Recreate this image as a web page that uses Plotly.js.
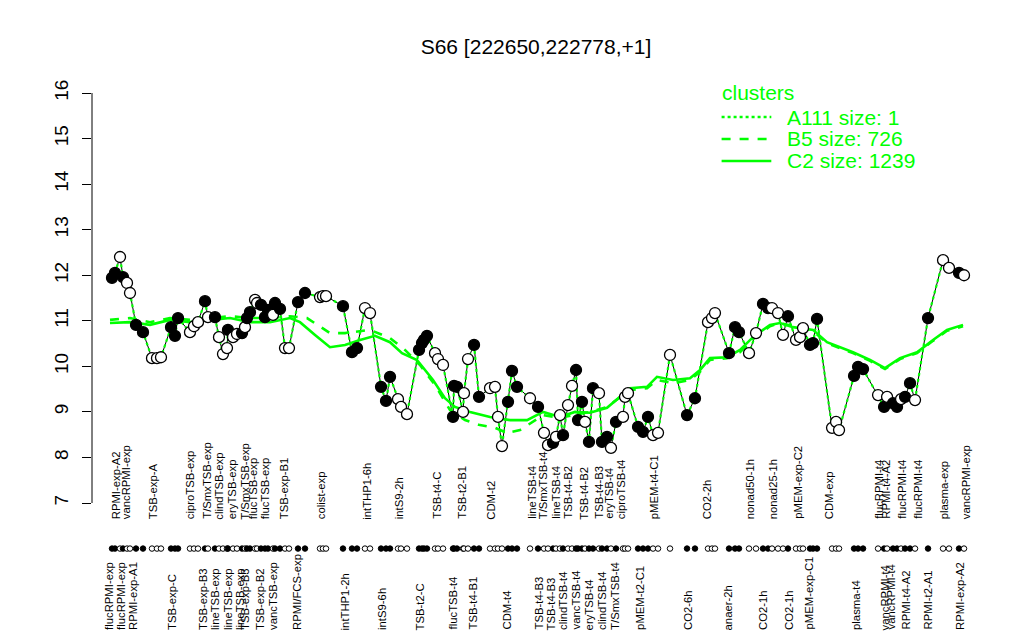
<!DOCTYPE html>
<html>
<head>
<meta charset="utf-8">
<script src="https://cdn.plot.ly/plotly-3.0.1.min.js"></script>
<style>html,body{margin:0;padding:0;background:#fff}#chart{width:1024px;height:640px}</style>
</head>
<body>
<div id="chart"></div>
<script>
// sample positions (index along the sample axis) and expression values
const sampleX = [1.35,1.87,2.75,3.27,3.97,4.49,5.54,6.76,8.33,9.20,9.90,11.65,12.34,12.87,14.96,15.66,16.36,17.58,18.10,19.32,20.02,20.72,21.42,21.59,22.47,23.16,24.04,24.56,24.91,25.43,26.31,26.66,27.35,28.05,28.57,29.45,29.80,30.67,31.54,32.24,33.81,35.03,37.65,38.17,38.70,41.66,43.23,44.11,45.50,46.38,48.30,49.17,49.87,51.26,51.79,52.83,54.93,55.45,55.80,56.32,57.72,58.24,59.12,60.86,61.04,61.56,62.61,62.78,63.48,64.53,65.40,67.32,68.19,68.71,69.41,70.46,71.16,72.03,74.30,75.70,76.74,77.44,78.31,78.84,79.53,80.06,80.93,81.63,82.33,82.68,83.37,83.90,84.59,85.29,86.34,86.86,87.74,88.43,89.31,90.53,90.88,91.40,93.15,94.02,94.89,95.77,96.64,98.73,101.70,103.09,105.36,106.06,106.58,109.03,110.08,110.77,112.52,113.74,114.96,115.84,116.53,117.58,118.45,119.32,120.72,121.42,121.94,123.16,123.69,124.39,127.01,127.71,128.23,130.85,131.55,132.42,135.04,136.09,136.61,137.65,138.35,139.05,139.75,140.62,141.49,143.76,146.38,147.42,149.17,150.04];
const sampleY = [11.94,12.05,12.40,11.96,11.83,11.61,10.91,10.75,10.18,10.18,10.20,10.86,10.67,11.06,10.75,10.88,10.97,11.43,11.08,11.08,10.64,10.27,10.40,10.80,10.64,10.71,10.73,10.86,11.06,11.19,11.46,11.39,11.35,11.08,11.24,11.13,11.39,11.26,10.40,10.40,11.41,11.61,11.52,11.54,11.54,11.32,10.31,10.40,11.28,11.17,9.55,9.24,9.77,9.28,9.11,8.95,10.36,10.51,10.58,10.67,10.29,10.16,10.03,8.89,9.57,9.55,9.00,9.41,10.16,10.47,9.33,9.52,9.55,8.89,8.25,9.22,9.90,9.55,9.30,9.11,8.54,8.27,8.32,8.45,8.93,8.49,9.15,9.57,9.92,8.82,9.22,8.78,8.34,9.52,9.41,8.34,8.45,8.21,8.78,8.89,9.33,9.41,8.67,8.56,8.89,8.49,8.54,10.25,8.93,9.30,10.97,11.06,11.17,10.29,10.86,10.75,10.29,10.73,11.37,11.28,11.28,11.17,10.69,11.10,10.58,10.64,10.84,10.47,10.51,11.04,8.65,8.78,8.60,9.79,9.99,9.94,9.37,9.11,9.33,9.19,9.11,9.28,9.33,9.63,9.26,11.06,12.33,12.16,12.05,12.00];
// 1 = filled marker, 0 = open marker
const sampleFilled = [1,1,0,1,0,0,1,1,0,0,0,1,1,1,0,0,0,1,0,1,0,0,0,1,0,0,1,0,1,1,0,0,1,1,1,0,1,1,0,0,1,1,0,0,0,1,1,1,0,0,1,1,1,0,0,0,1,1,1,1,0,0,0,1,1,1,0,0,0,1,1,0,0,0,0,1,1,1,0,1,0,0,1,0,0,1,0,0,1,1,1,0,1,1,0,1,1,0,1,0,0,0,1,1,1,0,0,0,1,1,0,0,0,1,1,1,0,0,1,1,0,0,0,1,0,0,0,1,1,1,0,0,0,1,1,1,0,1,0,1,1,0,1,1,0,1,0,0,1,0];

// cluster mean profiles
const clusterC2X = [1.0,4.49,7.98,11.47,14.96,18.45,21.94,25.43,28.92,32.41,34.16,36.78,39.39,42.01,44.63,47.25,49.87,51.96,54.58,57.37,59.46,61.21,63.83,67.32,70.81,73.78,76.57,79.53,82.15,84.77,87.74,91.75,94.72,96.46,99.25,102.22,103.97,105.71,108.69,110.95,113.22,116.18,117.93,120.20,123.69,126.13,130.67,133.64,136.25,138.87,141.84,144.63,147.07,149.87];
const clusterC2Y = [10.95,10.97,10.91,11.02,10.97,11.02,11.06,10.97,10.97,11.06,10.97,10.69,10.42,10.47,10.58,10.67,10.53,10.29,10.14,9.70,9.30,9.11,9.00,8.89,8.82,8.82,9.00,8.89,9.00,8.98,9.09,9.52,9.55,9.77,9.70,9.74,9.92,10.18,10.20,10.36,10.64,10.91,10.95,10.86,10.80,10.53,10.31,10.14,9.96,10.18,10.31,10.58,10.80,10.91];
const clusterB5X = [1.0,4.49,7.98,11.47,14.96,18.45,21.94,25.43,28.92,32.41,35.38,39.39,42.01,46.38,49.87,52.48,55.10,57.72,60.34,62.95,65.57,68.19,70.29,72.55,76.57,79.53,84.77,87.74,91.75,94.72,96.46,99.25,102.22,103.97,105.71,108.69,110.95,113.22,116.18,117.93,120.20,123.69,126.13,130.67,133.64,136.25,138.87,141.84,144.63,147.07,149.87];
const clusterB5Y = [11.02,11.06,10.97,11.06,11.02,11.06,11.10,11.06,11.06,11.10,11.06,10.73,10.73,10.80,10.62,10.36,10.03,9.59,9.04,8.82,8.71,8.65,8.54,8.60,8.93,8.87,9.00,9.11,9.48,9.52,9.70,9.63,9.70,9.88,10.14,10.18,10.31,10.60,10.88,10.95,10.88,10.78,10.51,10.29,10.12,9.94,10.16,10.29,10.56,10.78,10.88];

// sample labels
const topLabelX = [2.05,3.79,8.50,14.96,17.93,20.02,22.29,24.56,25.96,28.05,31.37,37.82,45.85,51.44,58.07,62.43,67.49,74.65,76.57,78.84,80.93,83.72,86.34,88.09,90.18,95.94,105.19,112.69,116.71,121.07,126.48,135.21,136.43,139.22,142.01,146.55,150.39];
const topLabels = ["RPMI-exp-A2","vancRPMI-exp","TSB-exp-A","ciproTSB-exp","T/SmxTSB-exp","clindTSB-exp","eryTSB-exp","T/SmxTSB-exp","flucTSB-exp","flucTSB-exp","TSB-exp-B1","colist-exp","intTHP1-6h","intS9-2h","TSB-t4-C","TSB-t2-B1","CDM-t2","lineTSB-t4","T/SmxTSB-t4","lineTSB-t4","TSB-t4-B2","TSB-t4-B2","TSB-t4-B3","eryTSB-t4","ciproTSB-t4","pMEM-t4-C1","CO2-2h","nonad50-1h","nonad25-1h","pMEM-exp-C2","CDM-exp","flucRPMI-t4","RPMI-t4-A2","flucRPMI-t4","flucRPMI-t4","plasma-exp","vancRPMI-exp"];
const bottomLabelX = [0.83,2.92,5.01,11.82,17.23,19.32,21.59,23.69,24.56,27.18,29.45,33.64,42.01,48.47,55.10,60.86,64.35,70.29,75.87,77.96,80.06,82.33,84.59,86.86,89.13,93.49,101.87,108.85,114.96,119.50,122.99,131.19,136.25,137.30,139.92,143.76,149.34];
const bottomLabels = ["flucRPMI-exp","flucRPMI-exp","RPMI-exp-A1","TSB-exp-C","TSB-exp-B3","lineTSB-exp","lineTSB-exp","lineTSB-exp","TSB-exp-B3","TSB-exp-B2","vancTSB-exp","RPMI/FCS-exp","intTHP1-2h","intS9-6h","TSB-t2-C","flucTSB-t4","TSB-t4-B1","CDM-t4","TSB-t4-B3","TSB-t4-B3","clindTSB-t4","vancTSB-t4","eryTSB-t4","clindTSB-t4","T/SmxTSB-t4","pMEM-t2-C1","CO2-6h","anaer-2h","CO2-1h","CO2-1h","pMEM-exp-C1","plasma-t4","vancRPMI-t4","vancRPMI-t4","RPMI-t4-A2","RPMI-t2-A1","RPMI-exp-A2"];

const yTicks = [7,8,9,10,11,12,13,14,15,16];
const legendNames = ["A111 size: 1","B5 size: 726","C2 size: 1239"];
const legendDash = ["dot","dash","solid"];
const titleText = "S66 [222650,222778,+1]";
const rugLevel = 6;

const GREEN = "#00ff00";
const FONT = "Liberation Sans, Arial, Helvetica, sans-serif";
const fillColors = sampleFilled.map(f => f ? "#000000" : "#ffffff");

const traces = [
  {x: sampleX, y: sampleY, mode: "lines", line: {color: "#000", width: 1}, hoverinfo: "skip"},
  {x: sampleX, y: sampleY, mode: "lines", line: {color: GREEN, width: 2.2, dash: "dot"}, hoverinfo: "skip"},
  {x: clusterB5X, y: clusterB5Y, mode: "lines", line: {color: GREEN, width: 2.6, dash: "dash"}, hoverinfo: "skip"},
  {x: clusterC2X, y: clusterC2Y, mode: "lines", line: {color: GREEN, width: 2.6}, hoverinfo: "skip"},
  {x: sampleX, y: sampleY, mode: "markers", marker: {size: 11, color: fillColors, line: {color: "#000", width: 1.3}}},
  {x: sampleX, y: sampleX.map(() => rugLevel), mode: "markers",
   marker: {size: 5.5, color: fillColors, line: {color: "#000", width: 1}}}
];

const annotations = [];
topLabels.forEach((t, i) => annotations.push({
  x: topLabelX[i], xref: "x", y: 0.083, yref: "paper", text: t, showarrow: false,
  textangle: -90, xanchor: "center", yanchor: "bottom", font: {family: FONT, size: 11.3, color: "#000"}
}));
bottomLabels.forEach((t, i) => annotations.push({
  x: bottomLabelX[i], xref: "x", y: -0.154, yref: "paper", text: t, showarrow: false,
  textangle: -90, xanchor: "center", yanchor: "bottom", font: {family: FONT, size: 11.3, color: "#000"}
}));
annotations.push({x: 0.707, xref: "paper", y: 1.002, yref: "paper", text: "clusters", showarrow: false,
  xanchor: "left", yanchor: "middle", font: {family: FONT, size: 21, color: GREEN}});
const shapes = [
  // y axis line, spanning the tick range only
  {type: "line", xref: "paper", yref: "y", x0: 0, x1: 0, y0: yTicks[0], y1: yTicks[yTicks.length - 1],
   line: {color: "#000", width: 1}}
];
const legendY = [0.9486, 0.9015, 0.8544];
legendNames.forEach((n, i) => {
  shapes.push({type: "line", xref: "paper", yref: "paper", x0: 0.709, x1: 0.765, y0: legendY[i], y1: legendY[i],
    line: {color: GREEN, width: 2.6, dash: legendDash[i]}});
  annotations.push({x: 0.78, xref: "paper", y: legendY[i], yref: "paper", text: n, showarrow: false,
    xanchor: "left", yanchor: "middle", font: {family: FONT, size: 21, color: GREEN}});
});

const layout = {
  width: 1024, height: 640,
  margin: {l: 92, r: 44, t: 93, b: 80},
  paper_bgcolor: "#fff", plot_bgcolor: "#fff",
  showlegend: false,
  title: {text: titleText, x: 0.5, xref: "paper", y: 0.927, yanchor: "middle",
          font: {family: FONT, size: 21, color: "#000"}},
  xaxis: {range: [-2.14, 152.83], visible: false, fixedrange: true},
  yaxis: {range: [5.749, 16], tickvals: yTicks, ticktext: yTicks.map(String), showline: false,
          ticks: "outside", ticklen: 9, tickcolor: "#000", showgrid: false, zeroline: false,
          tickangle: -90, tickfont: {family: FONT, size: 19, color: "#000"}, ticklabelstandoff: 6},
  annotations: annotations,
  shapes: shapes
};
Plotly.newPlot("chart", traces, layout, {staticPlot: true});
</script>
</body>
</html>
